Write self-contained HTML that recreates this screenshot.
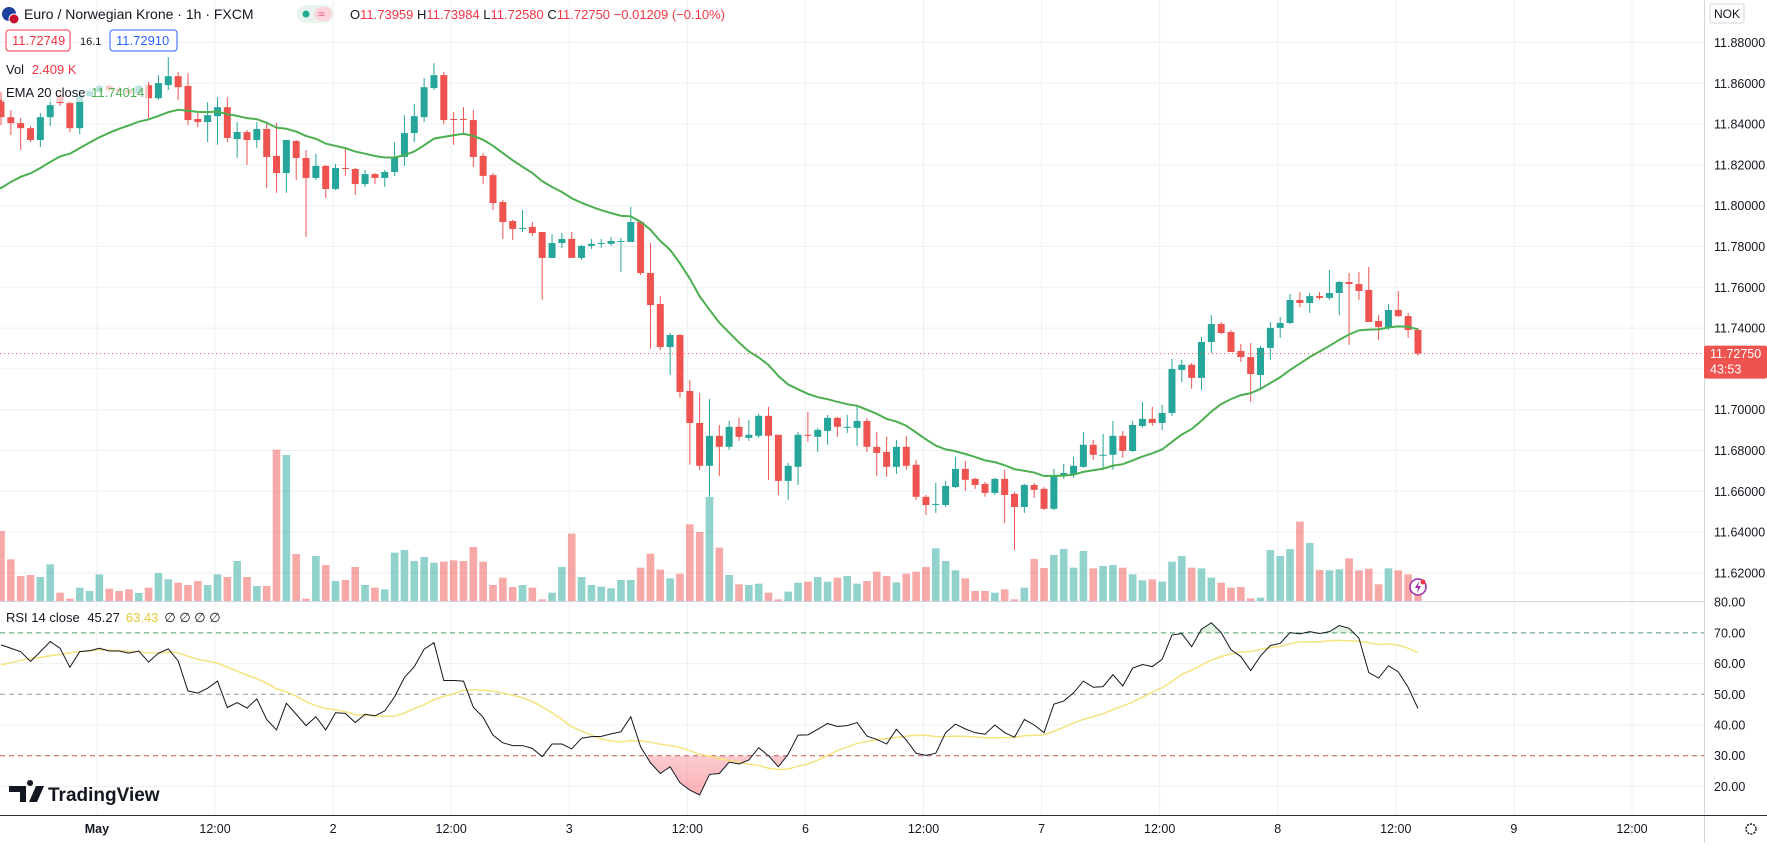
<!DOCTYPE html>
<html><head><meta charset="utf-8">
<style>
html,body{margin:0;padding:0;background:#fff;}
body{width:1767px;height:843px;overflow:hidden;font-family:"Liberation Sans",sans-serif;}
svg text{font-family:"Liberation Sans",sans-serif;}
</style></head>
<body>
<svg id="chart" xmlns="http://www.w3.org/2000/svg" width="1767" height="843" viewBox="0 0 1767 843">
  <defs>
    <linearGradient id="osGrad" x1="0" y1="0" x2="0" y2="1">
      <stop offset="0" stop-color="#ffffff" stop-opacity="0.2"/>
      <stop offset="1" stop-color="#f7525f" stop-opacity="0.45"/>
    </linearGradient>
    <clipPath id="clipMain"><rect x="0" y="0" width="1704" height="601"/></clipPath>
    <clipPath id="clipOS"><rect x="0" y="756" width="1704" height="60"/></clipPath>
    <clipPath id="clipOB"><rect x="0" y="603" width="1704" height="30.5"/></clipPath>
  </defs>
  <g id="grid"></g>
  <g id="volume" clip-path="url(#clipMain)"></g>
  <g id="candles" clip-path="url(#clipMain)"></g>
  <g id="ema"></g>
  <g id="rsi"></g>
  <g id="axes"></g>

  <!-- header -->
  <g>
    <circle cx="9" cy="14" r="7" fill="#1e3f9b"/>
    <circle cx="14" cy="19" r="5" fill="#c8102e" stroke="#fff" stroke-width="1"/>
    <text x="24" y="19" font-size="14" fill="#131722">Euro / Norwegian Krone · 1h · FXCM</text>
    <rect x="297" y="5" width="36" height="18" rx="9" fill="#e8f5ee"/>
    <circle cx="306" cy="14" r="3.5" fill="#22ab94"/>
    <rect x="314" y="7" width="18" height="14" rx="7" fill="#fbd4dc"/>
    <text x="318" y="18" font-size="12" fill="#e0457b">≈</text>
    <text x="350" y="19" font-size="13" fill="#131722">O<tspan fill="#f23645">11.73959</tspan> H<tspan fill="#f23645">11.73984</tspan> L<tspan fill="#f23645">11.72580</tspan> C<tspan fill="#f23645">11.72750</tspan> <tspan fill="#f23645">−0.01209 (−0.10%)</tspan></text>
    <rect x="6" y="30" width="64" height="21" rx="3" fill="#fff" stroke="#f23645"/>
    <text x="12" y="45" font-size="13" fill="#f23645">11.72749</text>
    <text x="80" y="45" font-size="11" fill="#131722">16.1</text>
    <rect x="110" y="30" width="67" height="21" rx="3" fill="#fff" stroke="#2962ff"/>
    <text x="116" y="45" font-size="13" fill="#2962ff">11.72910</text>
    <rect x="2" y="59" width="78" height="20" fill="#fff" fill-opacity="0.7"/>
    <text x="6" y="74" font-size="13" fill="#131722">Vol <tspan fill="#f23645" dx="4">2.409 K</tspan></text>
    <rect x="2" y="82" width="146" height="20" fill="#fff" fill-opacity="0.7"/>
    <text x="6" y="97" font-size="13" fill="#131722">EMA 20 close <tspan fill="#4caf50" dx="2">11.74014</tspan></text>
    <rect x="2" y="607" width="222" height="20" fill="#fff" fill-opacity="0.7"/>
    <text x="6" y="622" font-size="13" fill="#131722">RSI 14 close <tspan dx="4">45.27</tspan><tspan fill="#e6c93a" dx="6">63.43</tspan><tspan fill="#131722" dx="6">∅ ∅ ∅ ∅</tspan></text>
  </g>

  <!-- logo -->
  <g>
    <path d="M9 786 h17 v16 h-6 v-10 h-11z M30 786 a3 3 0 1 1 0.1 0 z M36 786 h8 l-7 16 h-8z" fill="#131722"/>
    <text x="48" y="801" font-size="19" font-weight="bold" fill="#131722">TradingView</text>
  </g>

  <!-- lightning icon -->
  <g>
    <circle cx="1418" cy="587" r="8" fill="#fff" stroke="#9c27b0" stroke-width="1.5"/>
    <path d="M1419 581 l-4 7 h3 l-1 5 l4 -7 h-3z" fill="#9c27b0"/>
    <circle cx="1423" cy="582" r="2.5" fill="#f23645"/>
  </g>
</svg>
<script>
const opens=[11.8518,11.8434,11.8405,11.8380,11.8322,11.8434,11.8542,11.8503,11.8380,11.8537,
11.8557,11.8587,11.8572,11.8567,11.8552,11.8591,11.8527,11.8591,11.8635,11.8587,
11.8425,11.8410,11.8439,11.8483,11.8327,11.8361,11.8322,11.8376,11.8244,11.8160,
11.8317,11.8234,11.8136,11.8195,11.8082,11.8185,11.8180,11.8106,11.8155,11.8136,
11.8165,11.8239,11.8356,11.8434,11.8577,11.8640,11.8425,11.8425,11.8420,11.8244,
11.8150,11.8018,11.7925,11.7886,11.7896,11.7871,11.7744,11.7817,11.7837,11.7744,
11.7803,11.7817,11.7813,11.7827,11.7822,11.7920,11.7670,11.7518,11.7307,11.7366,
11.7092,11.6935,11.6725,11.6872,11.6818,11.6916,11.6862,11.6872,11.6970,11.6877,
11.6651,11.6720,11.6877,11.6867,11.6896,11.6960,11.6916,11.6911,11.6945,11.6818,
11.6793,11.6720,11.6818,11.6730,11.6573,11.6538,11.6533,11.6621,11.6710,11.6661,
11.6636,11.6592,11.6661,11.6587,11.6523,11.6631,11.6612,11.6514,11.6680,11.6685,
11.6720,11.6828,11.6779,11.6779,11.6872,11.6798,11.6920,11.6955,11.6935,11.6984,
11.7195,11.7220,11.7156,11.7332,11.7420,11.7381,11.7288,11.7258,11.7170,11.7303,
11.7401,11.7425,11.7538,11.7523,11.7557,11.7548,11.7572,11.7626,11.7616,11.7587,
11.7435,11.7401,11.7489,11.7459,11.7391];
const closes=[11.8434,11.8405,11.8380,11.8322,11.8434,11.8493,11.8503,11.8380,11.8542,11.8562,
11.8587,11.8567,11.8562,11.8552,11.8587,11.8527,11.8601,11.8635,11.8581,11.8420,
11.8410,11.8444,11.8483,11.8332,11.8361,11.8322,11.8376,11.8239,11.8160,11.8322,
11.8234,11.8136,11.8195,11.8082,11.8185,11.8180,11.8106,11.8155,11.8136,11.8165,
11.8239,11.8356,11.8439,11.8581,11.8640,11.8420,11.8420,11.8420,11.8239,11.8146,
11.8013,11.7920,11.7886,11.7891,11.7866,11.7744,11.7817,11.7837,11.7744,11.7803,
11.7813,11.7817,11.7827,11.7827,11.7920,11.7670,11.7513,11.7307,11.7366,11.7087,
11.6935,11.6725,11.6872,11.6818,11.6916,11.6867,11.6877,11.6970,11.6872,11.6651,
11.6725,11.6877,11.6872,11.6901,11.6960,11.6916,11.6916,11.6945,11.6818,11.6788,
11.6720,11.6818,11.6725,11.6573,11.6533,11.6538,11.6626,11.6710,11.6656,11.6631,
11.6592,11.6661,11.6582,11.6523,11.6631,11.6607,11.6514,11.6680,11.6690,11.6725,
11.6828,11.6779,11.6779,11.6872,11.6798,11.6925,11.6955,11.6935,11.6984,11.7200,
11.7220,11.7156,11.7332,11.7420,11.7376,11.7283,11.7258,11.7175,11.7303,11.7401,
11.7425,11.7538,11.7523,11.7557,11.7548,11.7572,11.7626,11.7616,11.7582,11.7430,
11.7405,11.7489,11.7459,11.7391,11.7275];
const highs=[11.8557,11.8469,11.8430,11.8390,11.8454,11.8542,11.8567,11.8513,11.8567,11.8577,
11.8596,11.8596,11.8587,11.8587,11.8596,11.8606,11.8640,11.8728,11.8655,11.8650,
11.8464,11.8508,11.8532,11.8532,11.8410,11.8371,11.8410,11.8405,11.8405,11.8322,
11.8322,11.8273,11.8254,11.8200,11.8205,11.8278,11.8185,11.8175,11.8160,11.8175,
11.8312,11.8444,11.8498,11.8626,11.8699,11.8655,11.8459,11.8483,11.8469,11.8258,
11.8160,11.8028,11.7930,11.7979,11.7920,11.7871,11.7861,11.7866,11.7871,11.7808,
11.7837,11.7837,11.7847,11.7842,11.7994,11.7920,11.7817,11.7558,11.7376,11.7371,
11.7146,11.7082,11.7053,11.6925,11.6945,11.6960,11.6950,11.6979,11.7014,11.6877,
11.6739,11.6891,11.6989,11.6911,11.6974,11.6965,11.6974,11.7024,11.6960,11.6891,
11.6867,11.6852,11.6872,11.6754,11.6582,11.6641,11.6651,11.6769,11.6749,11.6666,
11.6646,11.6666,11.6705,11.6597,11.6636,11.6641,11.6621,11.6710,11.6734,11.6769,
11.6891,11.6852,11.6881,11.6945,11.6896,11.6945,11.7038,11.7014,11.7024,11.7249,
11.7244,11.7229,11.7357,11.7464,11.7430,11.7391,11.7322,11.7327,11.7312,11.7430,
11.7454,11.7567,11.7577,11.7572,11.7577,11.7685,11.7631,11.7670,11.7675,11.7700,
11.7464,11.7518,11.7582,11.7474,11.7401];
const lows=[11.8395,11.8346,11.8273,11.8312,11.8288,11.8390,11.8488,11.8361,11.8351,11.8532,
11.8552,11.8557,11.8552,11.8542,11.8542,11.8430,11.8518,11.8567,11.8518,11.8395,
11.8385,11.8312,11.8298,11.8312,11.8234,11.8200,11.8283,11.8086,11.8063,11.8063,
11.8126,11.7847,11.8126,11.8038,11.8077,11.8146,11.8053,11.8092,11.8106,11.8092,
11.8146,11.8195,11.8312,11.8410,11.8567,11.8400,11.8298,11.8346,11.8190,11.8106,
11.7979,11.7837,11.7832,11.7871,11.7852,11.7538,11.7744,11.7793,11.7744,11.7734,
11.7788,11.7793,11.7803,11.7675,11.7822,11.7660,11.7298,11.7293,11.7170,11.7058,
11.6730,11.6705,11.6573,11.6675,11.6803,11.6847,11.6847,11.6862,11.6656,11.6582,
11.6558,11.6631,11.6842,11.6793,11.6828,11.6867,11.6886,11.6823,11.6793,11.6675,
11.6671,11.6685,11.6705,11.6558,11.6484,11.6494,11.6523,11.6616,11.6602,11.6612,
11.6573,11.6582,11.6445,11.6313,11.6494,11.6568,11.6509,11.6509,11.6661,11.6666,
11.6715,11.6754,11.6705,11.6705,11.6764,11.6793,11.6911,11.6920,11.6901,11.6970,
11.7136,11.7102,11.7097,11.7278,11.7371,11.7283,11.7234,11.7038,11.7107,11.7244,
11.7352,11.7420,11.7503,11.7474,11.7538,11.7538,11.7464,11.7318,11.7538,11.7430,
11.7342,11.7391,11.7454,11.7352,11.7264];
const volumes=[2100,1250,750,780,720,1100,250,70,400,300,
800,370,300,350,240,400,840,650,550,480,
600,480,800,720,1200,720,450,450,4540,4380,
1410,70,1350,1080,600,630,1020,480,400,350,
1450,1530,1200,1320,1150,1180,1220,1200,1620,1180,
480,700,420,480,400,50,250,1020,2020,720,
480,430,380,630,630,1000,1420,940,680,820,
2300,2070,3120,1600,780,500,480,520,250,50,
280,550,580,720,580,700,750,520,600,880,
750,560,820,880,1020,1580,1200,920,680,300,
300,250,350,50,400,1260,990,1380,1560,1000,
1500,980,1050,1080,1000,800,620,650,580,1180,
1350,1000,980,700,550,400,420,80,100,1530,
1350,1560,2380,1740,930,920,950,1280,920,970,
500,980,920,800,600];
const rsiValues=[66.1,65.0,63.9,60.7,63.9,67.2,65.0,58.8,63.9,64.2,
65.0,64.1,64.1,63.4,64.1,60.5,63.4,64.8,60.9,51.1,
50.4,52.0,54.3,45.7,47.3,45.5,48.5,41.8,38.4,47.1,
43.5,39.8,42.7,38.4,44.0,43.8,40.8,43.5,43.0,44.6,
49.2,55.5,59.0,64.7,66.8,54.5,54.5,54.3,45.8,42.5,
36.7,34.2,33.3,33.3,32.4,29.7,33.8,33.8,32.2,35.7,
36.2,36.3,37.1,37.8,42.7,32.9,27.7,24.2,26.4,21.2,
18.8,17.2,23.9,24.2,27.9,27.3,28.6,32.6,30.0,26.4,
30.5,36.7,36.8,38.6,40.5,39.5,39.8,40.8,36.4,35.3,
33.8,38.6,35.1,30.8,30.1,30.8,37.5,40.3,38.7,37.5,
37.0,40.0,37.5,36.0,41.8,40.0,37.5,46.8,47.8,50.5,
54.3,52.3,52.5,56.4,52.7,58.5,59.7,59.0,61.4,69.3,
69.8,65.5,71.2,73.3,70.1,64.5,62.3,57.7,62.5,65.9,
66.6,70.1,69.7,70.4,69.8,70.4,72.4,71.5,68.3,57.1,
55.3,59.3,57.3,52.3,45.4];
const rsiMaStart=[59.6,60.3,61.0,61.6,62.0,62.6,63.0,63.5,63.9,64.2,64.5,64.4,64.3];
const emaSeed=11.8086;
const priceTicks=[11.62,11.64,11.66,11.68,11.70,11.72,11.74,11.76,11.78,11.80,11.82,11.84,11.86,11.88];
const rsiTicks=[20,30,40,50,60,70,80];
const timeTickIdx=[9.75,21.75,33.75,45.75,57.75,69.75,81.75,93.75,105.75,117.75,129.75,141.75,153.75,165.75];
const timeTickLabels=["May","12:00","2","12:00","3","12:00","6","12:00","7","12:00","8","12:00","9","12:00"];

const NS="http://www.w3.org/2000/svg";
const PLOT_R=1704;
const xOf=i=>1+9.84*i;
const yP=p=>83.3+(11.86-p)*2040;
const yR=v=>694.3-(v-50)*3.07;
const vH=v=>v/30;
const UP="#26a69a",DN="#ef5350";
function mk(tag,attrs,parent){const e=document.createElementNS(NS,tag);for(const k in attrs)e.setAttribute(k,attrs[k]);parent.appendChild(e);return e;}

const grid=document.getElementById('grid');
const axes=document.getElementById('axes');
priceTicks.forEach(p=>{const l=mk('line',{x1:0,x2:PLOT_R,y1:yP(p),y2:yP(p),stroke:'#eef0f3','stroke-width':1},grid);

});
[20,40,60].forEach(v=>{const l=mk('line',{x1:0,x2:PLOT_R,y1:yR(v),y2:yR(v),stroke:'#eef0f3','stroke-width':1},grid);

});
timeTickIdx.forEach(t=>{const x=xOf(t);const l=mk('line',{x1:x,x2:x,y1:0,y2:815,stroke:'#eef0f3','stroke-width':1},grid);

});

const vg=document.getElementById('volume');
volumes.forEach((v,i)=>{const up=closes[i]>=opens[i];const h=vH(v);
const r=mk('rect',{x:xOf(i)-3.8,y:601-h,width:7.6,height:h,fill:up?'rgba(38,166,154,0.5)':'rgba(239,83,80,0.5)'},vg);

});

const cg=document.getElementById('candles');
opens.forEach((o,i)=>{const c=closes[i];const up=c>=o;const col=up?UP:DN;const x=xOf(i);
const hi=Math.max(highs[i],o,c),lo=Math.min(lows[i],o,c);
const w=mk('line',{x1:x,x2:x,y1:yP(hi),y2:yP(lo),stroke:col,'stroke-width':1},cg);


const top=yP(Math.max(o,c)),bh=Math.max(1,yP(Math.min(o,c))-top);
const b=mk('rect',{x:x-3.5,y:top,width:7,height:bh,fill:col},cg);

});

const eg=document.getElementById('ema');
let ema=emaSeed;const k=2/21;const emaPts=[];
closes.forEach((c,i)=>{if(i>0)ema=c*k+ema*(1-k);emaPts.push(xOf(i)+','+yP(ema));});
const emaLine=mk('polyline',{points:'-4,'+yP(emaSeed+0.0008)+' '+emaPts.join(' '),fill:'none',stroke:'#4caf50','stroke-width':2},eg);



const lastY=yP(closes[closes.length-1]);
const lp=mk('line',{x1:0,x2:PLOT_R,y1:lastY,y2:lastY,stroke:'#ef5350','stroke-width':1,'stroke-dasharray':'1 3'},axes);



const rg=document.getElementById('rsi');
const sep=mk('line',{x1:0,x2:1767,y1:601.5,y2:601.5,stroke:'#d1d4dc','stroke-width':1},rg);


[[70,'#4f9b6e'],[50,'#9598a1'],[30,'#c0504d']].forEach(([v,c])=>{const l=mk('line',{x1:0,x2:PLOT_R,y1:yR(v),y2:yR(v),stroke:c,'stroke-width':1,'stroke-dasharray':'5 4'},rg);

});
const rPts=rsiValues.map((v,i)=>xOf(i)+','+yR(v));
const osPoly=mk('polygon',{points:rPts.join(' ')+' '+xOf(rsiValues.length-1)+','+yR(30)+' '+xOf(0)+','+yR(30),fill:'url(#osGrad)','clip-path':'url(#clipOS)'},rg);


const obPoly=mk('polygon',{points:rPts.join(' ')+' '+xOf(rsiValues.length-1)+','+yR(70)+' '+xOf(0)+','+yR(70),fill:'rgba(76,175,80,0.18)','clip-path':'url(#clipOB)'},rg);


const maPts=[];
rsiValues.forEach((v,i)=>{let m;if(i<rsiMaStart.length)m=rsiMaStart[i];else{let s=0;for(let j=i-13;j<=i;j++)s+=rsiValues[j];m=s/14;}maPts.push(xOf(i)+','+yR(m));});
const maLine=mk('polyline',{points:maPts.join(' '),fill:'none',stroke:'#f5e37e','stroke-width':1.5},rg);


const rLine=mk('polyline',{points:rPts.join(' '),fill:'none',stroke:'#131722','stroke-width':1},rg);



const axBg=mk('rect',{x:PLOT_R,y:0,width:63,height:843,fill:'#fff'},axes);


const axL=mk('line',{x1:PLOT_R+0.5,x2:PLOT_R+0.5,y1:0,y2:843,stroke:'#d1d4dc'},axes);


const btm=mk('line',{x1:0,x2:1767,y1:815.5,y2:815.5,stroke:'#2a2e39','stroke-width':1},axes);


priceTicks.forEach(p=>{if(yP(p)<30)return;const t=mk('text',{x:1714,y:yP(p)+4.5,'font-size':12.5,fill:'#131722'},axes);t.textContent=p.toFixed(5);

});
rsiTicks.forEach(v=>{const t=mk('text',{x:1714,y:yR(v)+4.5,'font-size':12.5,fill:'#131722'},axes);t.textContent=v.toFixed(2);

});
timeTickIdx.forEach((ti,j)=>{const t=mk('text',{x:xOf(ti),y:833,'font-size':12.5,fill:'#131722','text-anchor':'middle','font-weight':j===0?'bold':'normal'},axes);t.textContent=timeTickLabels[j];

});
const cur=mk('rect',{x:1710,y:4,width:34,height:19,rx:2,fill:'#fff',stroke:'#d1d4dc'},axes);


const curT=mk('text',{x:1714,y:18,'font-size':12,fill:'#131722'},axes);curT.textContent='NOK';


const tag=mk('rect',{x:PLOT_R,y:lastY-8,width:63,height:33,rx:2,fill:'#ef5350'},axes);


const tagT=mk('text',{x:1710,y:lastY+4.5,'font-size':12.5,fill:'#fff'},axes);tagT.textContent=closes[closes.length-1].toFixed(5);


const cd=mk('text',{x:1710,y:lastY+20,'font-size':12.5,fill:'#fff'},axes);cd.textContent='43:53';


const gear=mk('circle',{cx:1751,cy:829,r:5,fill:'none',stroke:'#131722','stroke-width':1.5,'stroke-dasharray':'2 1.2'},axes);


</script>
</body></html>
